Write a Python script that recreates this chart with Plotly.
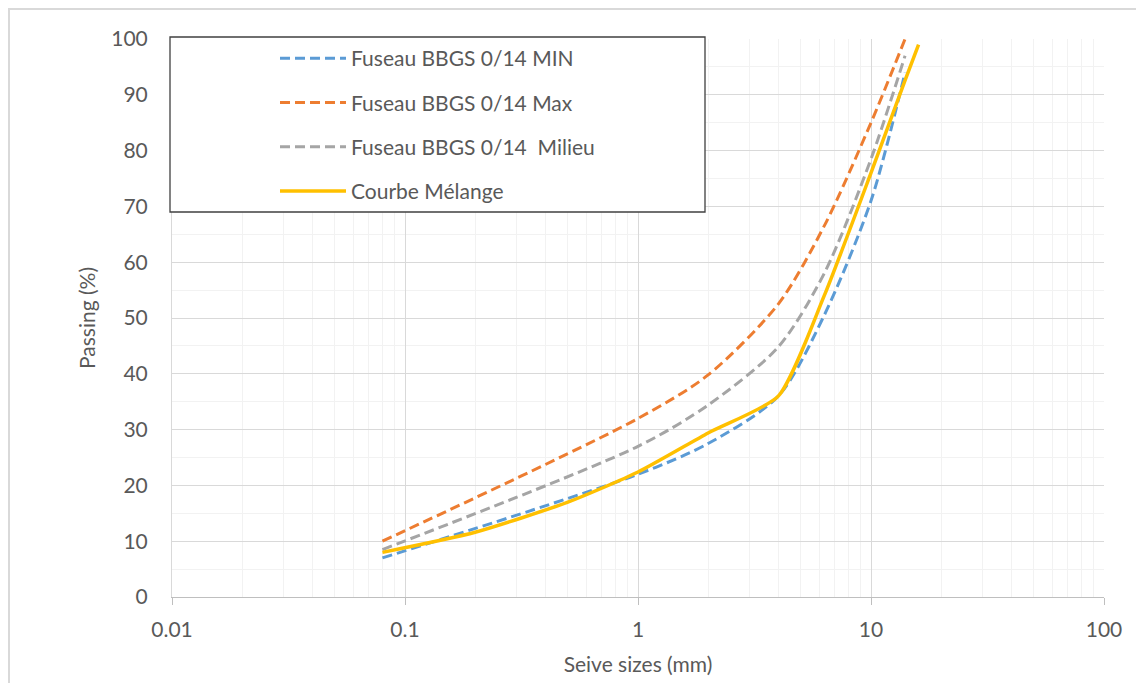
import plotly.graph_objects as go

# Sieve sizes (mm)
sizes_fuseau = [0.08, 1, 2, 4, 6.3, 10, 14]
fuseau_min = [7, 22, 27.5, 36, 50.5, 71, 94]
fuseau_max = [10, 32, 39.8, 52.5, 66.5, 85, 100]
fuseau_mid = [8.5, 27, 34.4, 44.8, 58, 78.5, 97]

sizes_melange = [0.08, 0.2, 0.5, 1, 2, 4, 6.3, 10, 14, 16]
courbe_melange = [8, 11.6, 17, 22.4, 29.4, 36, 54, 76, 92.6, 99]

x_ticks = [0.01, 0.1, 1, 10, 100]
x_tick_labels = ["0.01", "0.1", "1", "10", "100"]

FONT = "Lato, Carlito, Calibri, sans-serif"
TXT = "#595959"

fig = go.Figure()
series = [
    ("Fuseau BBGS 0/14 MIN", sizes_fuseau, fuseau_min, "#5B9BD5", "10px,5px", 0.8, 3),
    ("Fuseau BBGS 0/14 Max", sizes_fuseau, fuseau_max, "#ED7D31", "10px,5px", 0.8, 3),
    ("Fuseau BBGS 0/14  Milieu", sizes_fuseau, fuseau_mid, "#A5A5A5", "10px,5px", 0.8, 3),
    ("Courbe Mélange", sizes_melange, courbe_melange, "#FFC000", "solid", 0.6, 3.5),
]
for i, (name, xs, ys, col, dash, sm, lw) in enumerate(series):
    fig.add_trace(go.Scatter(
        x=xs, y=ys, name=name, mode="lines", legendgroup=f"g{i}",
        line=dict(color=col, width=lw, dash=dash, shape="spline", smoothing=sm),
    ))

W, H = 1136, 683
ml, mr, mt, mb = 172, 32, 39, 86
pw, ph = W - ml - mr, H - mt - mb

def px2paper_x(px):
    return (px - ml) / pw

def px2paper_y(py):
    return (H - mb - py) / ph

minor_x = [m * 10 ** k for k in (-2, -1, 0, 1) for m in range(2, 10)]

fig.update_layout(
    width=W, height=H,
    margin=dict(l=ml, r=mr, t=mt, b=mb, autoexpand=False),
    paper_bgcolor="white", plot_bgcolor="white",
    font=dict(family=FONT, color=TXT, size=21),
    showlegend=True,
    legend=dict(
        x=px2paper_x(275), y=px2paper_y(38), xanchor="left", yanchor="top",
        bgcolor="rgba(0,0,0,0)", borderwidth=0, tracegroupgap=14,
        font=dict(family=FONT, size=21, color=TXT), itemwidth=66,
    ),
    xaxis=dict(
        type="log", range=[-2, 2], tickmode="array", tickvals=x_ticks, ticktext=x_tick_labels,
        showgrid=True, gridcolor="#D9D9D9", gridwidth=1,
        minor=dict(tickmode="array", tickvals=minor_x, showgrid=True, gridcolor="#F2F2F2", gridwidth=1),
        showline=True, linecolor="#BFBFBF", linewidth=1,
        ticks="outside", ticklen=7, tickcolor="#BFBFBF",
        ticklabelstandoff=7, automargin=False,
        title=dict(text="Seive sizes (mm)", font=dict(size=21, color=TXT), standoff=17),
        zeroline=False,
    ),
    yaxis=dict(
        range=[0, 100], tickmode="linear", tick0=0, dtick=10,
        showgrid=True, gridcolor="#D9D9D9", gridwidth=1,
        minor=dict(dtick=5, showgrid=True, gridcolor="#F2F2F2", gridwidth=1),
        showline=True, linecolor="#D9D9D9", linewidth=1,
        ticks="", ticklabelstandoff=19, automargin=False,
        title=dict(text="Passing (%)", font=dict(size=21, color=TXT), standoff=9),
        zeroline=False,
    ),
    shapes=[
        # legend box
        dict(type="rect", xref="paper", yref="paper",
             x0=px2paper_x(170), x1=px2paper_x(705), y0=px2paper_y(212), y1=px2paper_y(37),
             line=dict(color="#404040", width=1.3), fillcolor="white", layer="above"),
        # chart area border
        dict(type="rect", xref="paper", yref="paper",
             x0=px2paper_x(9), x1=px2paper_x(1160), y0=px2paper_y(720), y1=px2paper_y(9),
             line=dict(color="#D9D9D9", width=2), fillcolor="rgba(0,0,0,0)", layer="below"),
    ],
)

fig.write_html("out.html")
